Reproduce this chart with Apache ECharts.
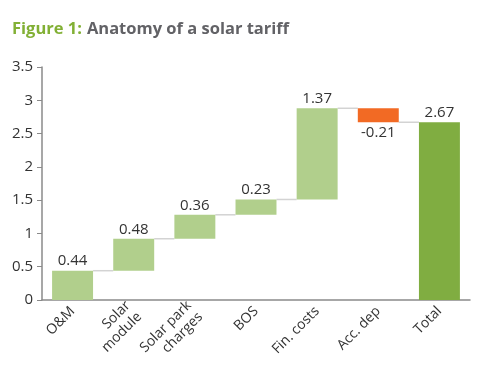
<!DOCTYPE html>
<html><head><meta charset="utf-8">
<script src="https://cdn.jsdelivr.net/npm/echarts@6/dist/echarts.min.js"></script>
<style>html,body{margin:0;padding:0;background:#fff}#c{width:495px;height:371px}</style>
</head><body><div id="c"></div>
<script>
const categories = ['O&M', 'Solar\nmodule', 'Solar park\ncharges', 'BOS', 'Fin. costs', 'Acc. dep', 'Total'];
const deltas = [0.44, 0.48, 0.36, 0.23, 1.37, -0.21];
const total = 2.67;
const yTicks = [0, 0.5, 1, 1.5, 2, 2.5, 3, 3.5];

const FONT = '"Open Sans", "Noto Sans", sans-serif';
// cumulative levels
const levels = [];
let run = 0;
deltas.forEach(d => { run += d; levels.push(+run.toFixed(2)); });
const baseData = [], incData = [], decData = [], totData = [];
let prev = 0;
deltas.forEach((d, i) => {
  const lv = levels[i];
  baseData.push(Math.min(prev, lv));
  if (d >= 0) { incData.push(d); decData.push('-'); }
  else { incData.push('-'); decData.push(-d); }
  totData.push('-');
  prev = lv;
});
baseData.push(0); incData.push('-'); decData.push('-'); totData.push(total);

const connectors = levels.map((lv, i) => [i, lv]);

const chart = echarts.init(document.getElementById('c'));
chart.setOption({
  animation: false,
  title: {
    text: '{g|Figure 1:} {t|Anatomy of a solar tariff}',
    left: 7, top: 15,
    textStyle: {
      rich: {
        g: { fontFamily: FONT, fontWeight: 'bold', fontSize: 16.5, color: '#82b035' },
        t: { fontFamily: FONT, fontWeight: 'bold', fontSize: 16.5, color: '#626266' }
      }
    }
  },
  grid: { left: 42, right: 25, top: 67, bottom: 71, containLabel: false },
  xAxis: {
    type: 'category', data: categories,
    axisLine: { lineStyle: { color: '#8a8a8a', width: 1.5 } },
    axisTick: { show: false },
    axisLabel: { rotate: 45, interval: 0, fontFamily: FONT, fontSize: 14, color: '#333', margin: 9, lineHeight: 16 }
  },
  yAxis: {
    type: 'value', min: 0, max: 3.5, interval: 0.5,
    splitLine: { show: false },
    axisLine: { show: true, lineStyle: { color: '#8a8a8a', width: 1.5 } },
    axisTick: { show: true, length: 5, lineStyle: { color: '#8a8a8a' } },
    axisLabel: { fontFamily: FONT, fontSize: 15, color: '#333', margin: 9,
      formatter: v => yTicks.includes(v) ? String(v) : '' }
  },
  series: [
    { type: 'bar', stack: 'w', data: baseData, barWidth: '67%',
      itemStyle: { color: 'transparent' }, silent: true },
    { type: 'bar', stack: 'w', data: incData, barWidth: '67%',
      itemStyle: { color: '#b1cf8c' },
      label: { show: true, position: 'top', distance: 2, fontFamily: FONT, fontSize: 15, color: '#333',
        formatter: p => p.value.toFixed(2) } },
    { type: 'bar', stack: 'w', data: decData, barWidth: '67%',
      itemStyle: { color: '#f26a24' },
      label: { show: true, position: 'bottom', distance: 3, fontFamily: FONT, fontSize: 15, color: '#333',
        formatter: p => (-p.value).toFixed(2) } },
    { type: 'bar', stack: 'w', data: totData, barWidth: '67%',
      itemStyle: { color: '#80ad41' },
      label: { show: true, position: 'top', distance: 2, fontFamily: FONT, fontSize: 15, color: '#333',
        formatter: p => p.value.toFixed(2) } },
    { type: 'custom', data: connectors, z: 1,
      renderItem: (params, api) => {
        const i = api.value(0), lv = api.value(1);
        const band = api.size([1, 0])[0];
        const half = band * 0.67 / 2;
        const p1 = api.coord([i, lv]);
        const p2 = api.coord([i + 1, lv]);
        return { type: 'line', shape: { x1: p1[0] + half, y1: p1[1], x2: p2[0] - half, y2: p2[1] },
          style: { stroke: '#d3d3d3', lineWidth: 1.5 } };
      } }
  ]
});
</script></body></html>
